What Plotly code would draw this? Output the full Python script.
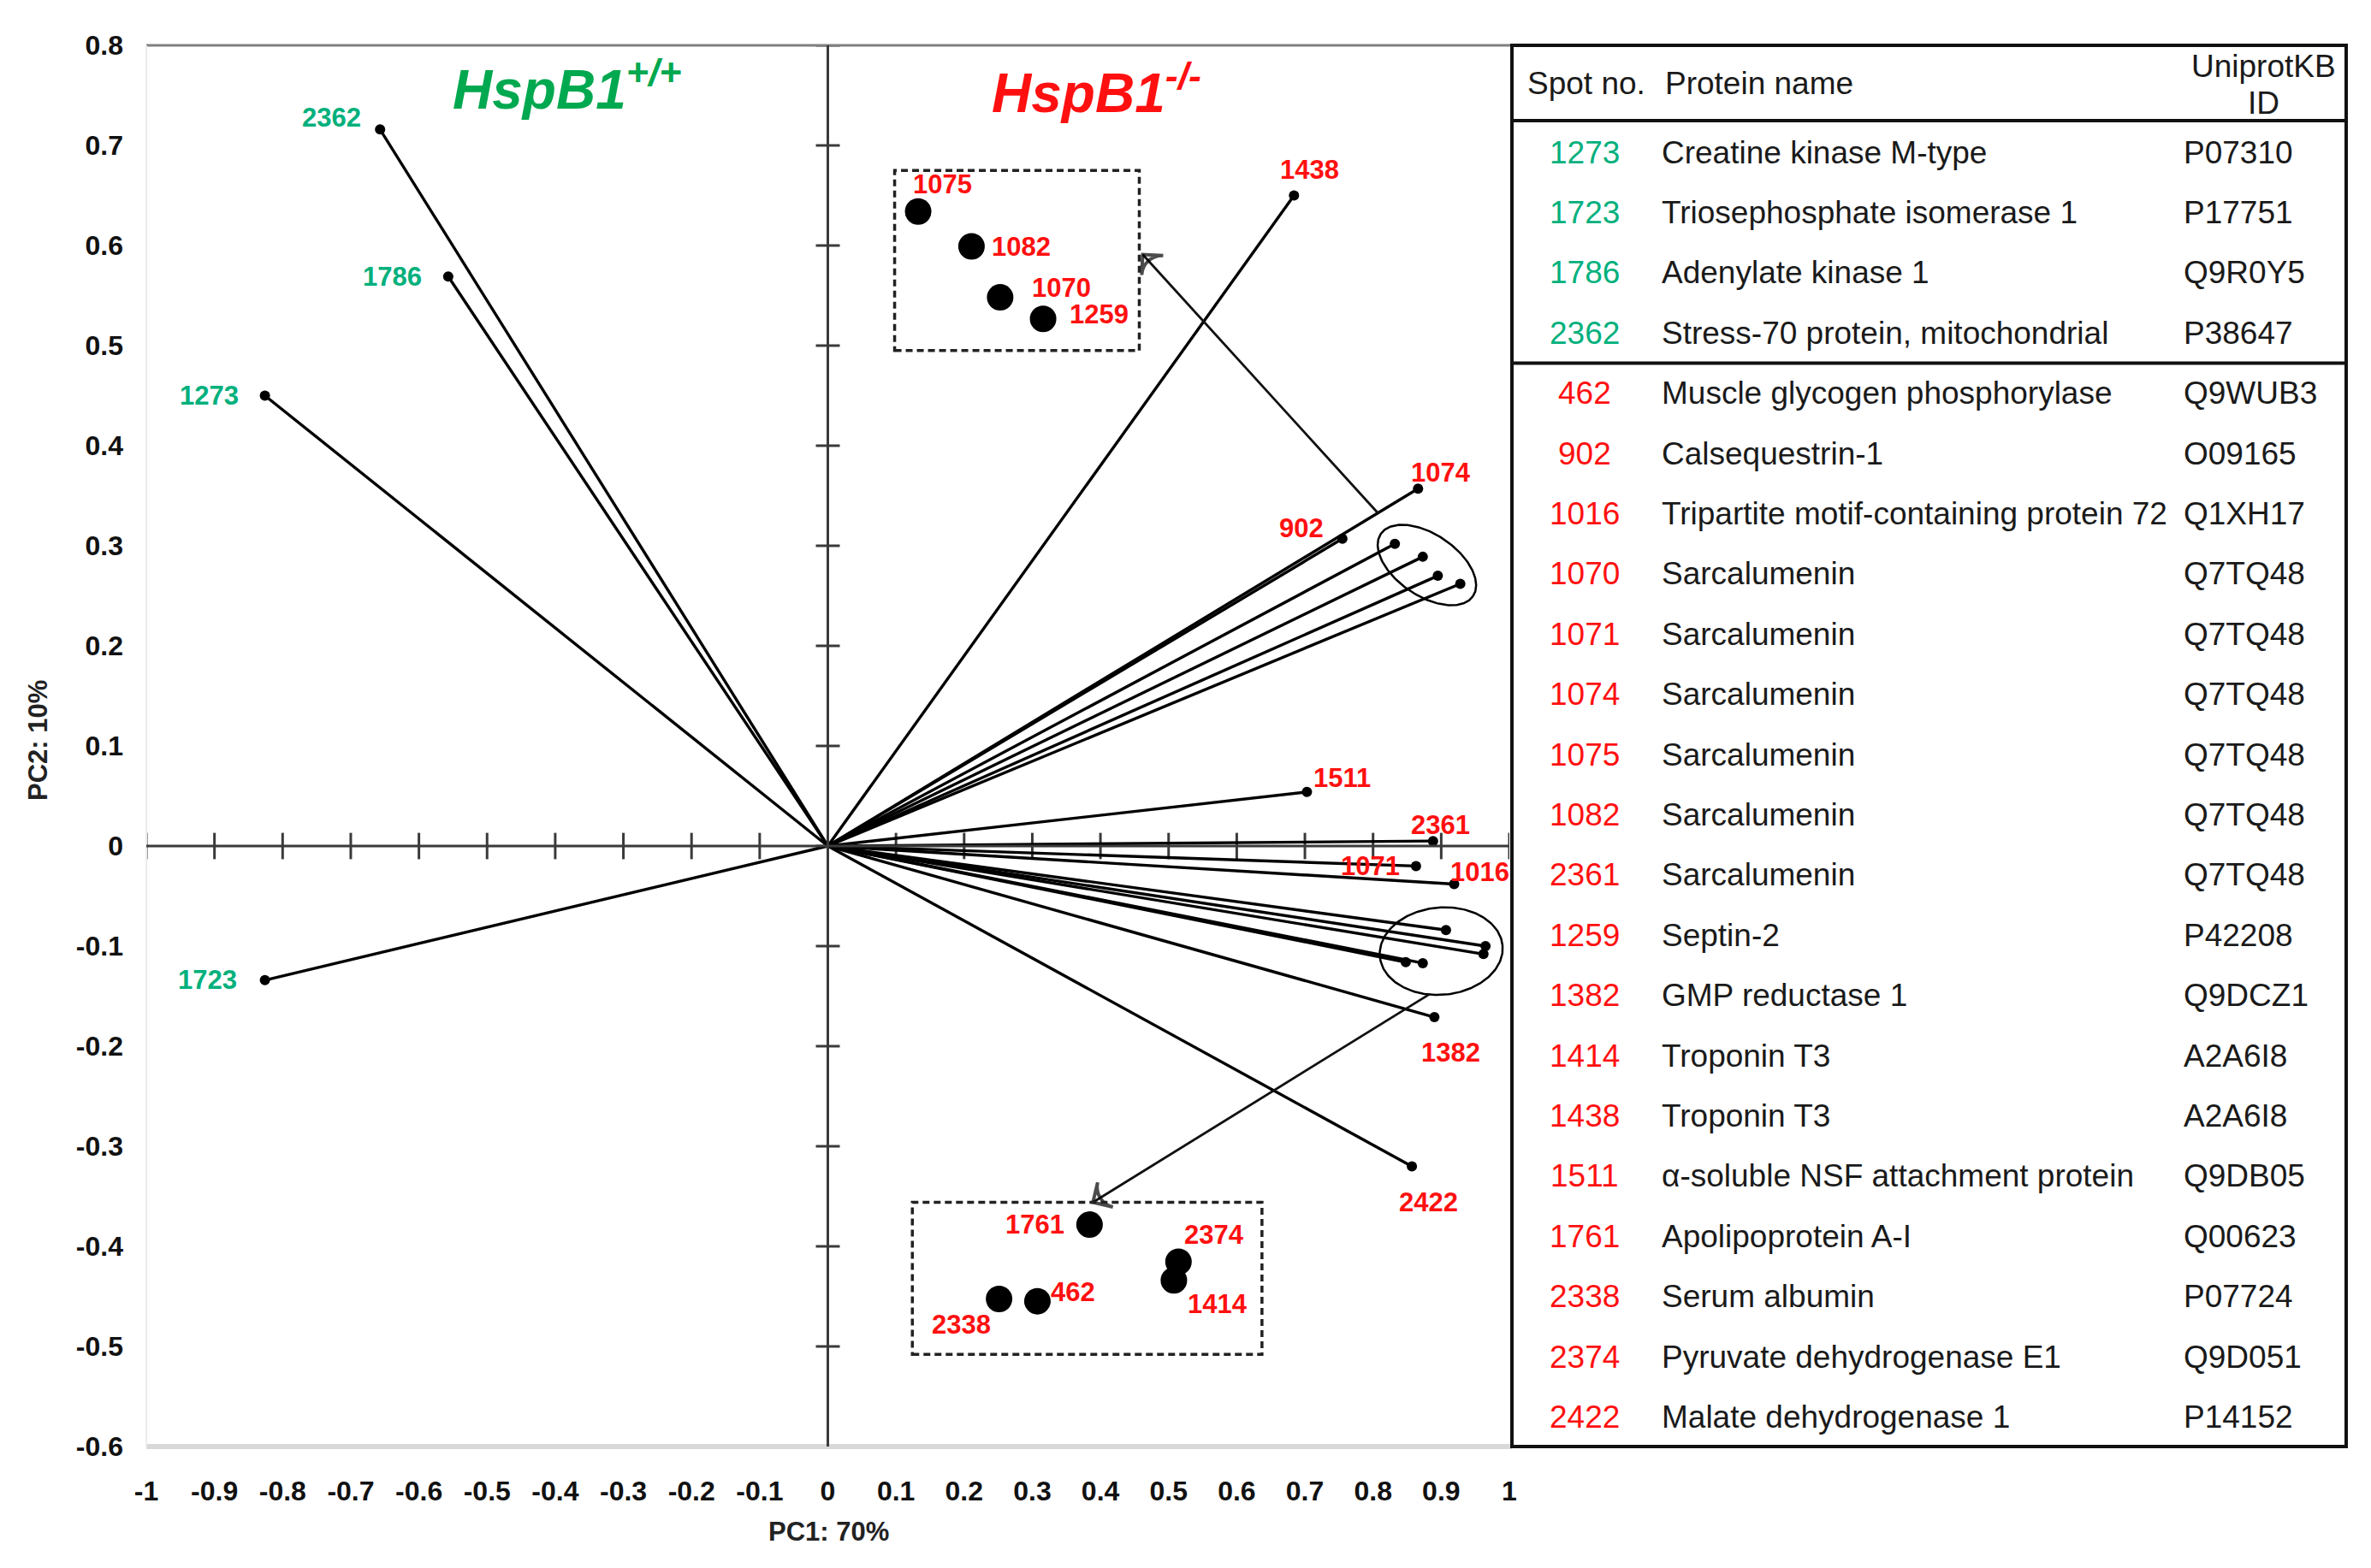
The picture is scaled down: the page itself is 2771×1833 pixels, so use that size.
import numpy as np
import plotly.graph_objects as go

W, H = 2771, 1833

# ---------------- data ----------------
GREEN_SPOTS = ["2362", "1786", "1273", "1723"]
GREEN_PC1 = [-0.657, -0.557, -0.826, -0.826]
GREEN_PC2 = [0.716, 0.569, 0.450, -0.134]

RED_SPOTS = ["1438", "1074", "902", "1075", "1082", "1070", "1259", "1511", "2361",
             "1071", "1016", "1761", "2374", "1414", "2338", "462", "1382", "2422"]
RED_PC1 = [0.684, 0.866, 0.755, 0.832, 0.873, 0.895, 0.928, 0.703, 0.888,
           0.863, 0.919, 0.907, 0.965, 0.962, 0.848, 0.873, 0.890, 0.857]
RED_PC2 = [0.650, 0.357, 0.307, 0.302, 0.289, 0.270, 0.262, 0.054, 0.005,
           -0.020, -0.038, -0.084, -0.100, -0.108, -0.116, -0.117, -0.171, -0.320]

UPPER_CLUSTER = ["1075", "1082", "1070", "1259"]
LOWER_CLUSTER = ["1761", "2374", "1414", "2338", "462"]

X_TICKS = [-1, -0.9, -0.8, -0.7, -0.6, -0.5, -0.4, -0.3, -0.2, -0.1, 0,
           0.1, 0.2, 0.3, 0.4, 0.5, 0.6, 0.7, 0.8, 0.9, 1]
X_TICK_LABELS = ["-1", "-0.9", "-0.8", "-0.7", "-0.6", "-0.5", "-0.4", "-0.3", "-0.2", "-0.1", "0",
                 "0.1", "0.2", "0.3", "0.4", "0.5", "0.6", "0.7", "0.8", "0.9", "1"]
Y_TICKS = [-0.6, -0.5, -0.4, -0.3, -0.2, -0.1, 0, 0.1, 0.2, 0.3, 0.4, 0.5, 0.6, 0.7, 0.8]
Y_TICK_LABELS = ["-0.6", "-0.5", "-0.4", "-0.3", "-0.2", "-0.1", "0",
                 "0.1", "0.2", "0.3", "0.4", "0.5", "0.6", "0.7", "0.8"]

X_TITLE = "PC1: 70%"
Y_TITLE = "PC2: 10%"
WT_TITLE = "HspB1<sup>+/+</sup>"
KO_TITLE = "HspB1<sup>-/-</sup>"

TABLE_HEADER = ["Spot no.", "Protein name", "UniprotKB", "ID"]
TABLE_SPOTS_WT = ["1273", "1723", "1786", "2362"]
TABLE_NAMES_WT = ["Creatine kinase M-type", "Triosephosphate isomerase 1",
                  "Adenylate kinase 1", "Stress-70 protein, mitochondrial"]
TABLE_IDS_WT = ["P07310", "P17751", "Q9R0Y5", "P38647"]
TABLE_SPOTS_KO = ["462", "902", "1016", "1070", "1071", "1074", "1075", "1082", "2361",
                  "1259", "1382", "1414", "1438", "1511", "1761", "2338", "2374", "2422"]
TABLE_NAMES_KO = ["Muscle glycogen phosphorylase", "Calsequestrin-1",
                  "Tripartite motif-containing protein 72", "Sarcalumenin", "Sarcalumenin",
                  "Sarcalumenin", "Sarcalumenin", "Sarcalumenin", "Sarcalumenin", "Septin-2",
                  "GMP reductase 1", "Troponin T3", "Troponin T3",
                  "\u03b1-soluble NSF attachment protein", "Apolipoprotein A-I", "Serum albumin",
                  "Pyruvate dehydrogenase E1", "Malate dehydrogenase 1"]
TABLE_IDS_KO = ["Q9WUB3", "O09165", "Q1XH17", "Q7TQ48", "Q7TQ48", "Q7TQ48", "Q7TQ48",
                "Q7TQ48", "Q7TQ48", "P42208", "Q9DCZ1", "A2A6I8", "A2A6I8", "Q9DB05",
                "Q00623", "P07724", "Q9D051", "P14152"]

# ---------------- layout / style ----------------
GREEN = "#00B07C"
GREEN_TITLE = "#00A84F"
RED = "#FF1010"
FONT = "Liberation Sans, Arial, sans-serif"
LBL_SIZE = 31

PLOT_L, PLOT_R, PLOT_T, PLOT_B = 171, 1764, 53, 1691
TAB_L, TAB_R = 1767, 2742
PPX = (PLOT_R - PLOT_L) / 2.0
PPY = (PLOT_B - PLOT_T) / 1.4


def px(x):
    return x / W


def py(y):
    return 1 - y / H


LABEL_SHIFT = {
    "2362": (-57, 14), "1786": (-65, 0), "1273": (-65, 0), "1723": (-67, 0),
    "1438": (18, 30), "1074": (27, 19), "902": (-48, 12), "1511": (41, 16),
    "2361": (9, 19), "1071": (-53, 0), "1016": (30, 14), "1382": (19, -41), "2422": (19, -42),
}
INSET_LABEL_SHIFT = {
    "1075": (28, 32), "1082": (58, 0), "1070": (72, 11), "1259": (65, 5),
    "1761": (-64, 0), "2374": (42, 32), "1414": (51, -28), "2338": (-44, -30), "462": (42, 11),
}
INSETS = {
    "upper": dict(members=UPPER_CLUSTER, center=(0.228, 0.577), scale=(1.91, 2.68),
                  box=(0.098, 0.495, 0.457, 0.675),
                  ellipse=dict(a=65, b=36, angle=-34, dx=-0.003, dy=0.0),
                  arrow=dict(tail=(0.808, 0.332), head=(0.462, 0.591))),
    "lower": dict(members=LOWER_CLUSTER, center=(0.393, -0.427), scale=(2.25, 2.32),
                  box=(0.124, -0.508, 0.637, -0.356),
                  ellipse=dict(a=72, b=51, angle=5, dx=-0.011, dy=0.0),
                  arrow=dict(tail=(0.883, -0.148), head=(0.389, -0.356))),
}


def paper_text(x, y, text, font, xanchor="center", yanchor="middle", **kw):
    return dict(x=px(x), y=py(y), xref="paper", yref="paper", showarrow=False,
                xanchor=xanchor, yanchor=yanchor, text=text, font=font, **kw)


fig = go.Figure()
annotations = []
shapes = []

# frame of plotting area
shapes.append(dict(type="line", xref="paper", yref="paper", x0=px(PLOT_L), x1=px(TAB_L),
                   y0=py(PLOT_T), y1=py(PLOT_T), line=dict(color="#808080", width=3)))
shapes.append(dict(type="line", xref="paper", yref="paper", x0=px(PLOT_L), x1=px(TAB_L),
                   y0=py(PLOT_B), y1=py(PLOT_B), line=dict(color="#d9d9d9", width=6)))
shapes.append(dict(type="line", xref="paper", yref="paper", x0=px(PLOT_L), x1=px(PLOT_L),
                   y0=py(PLOT_T), y1=py(PLOT_B), line=dict(color="#ececec", width=2)))

# central axes
shapes.append(dict(type="line", xref="x", yref="y", x0=0, x1=0, y0=Y_TICKS[0], y1=Y_TICKS[-1],
                   line=dict(color="#3a3a3a", width=3)))
shapes.append(dict(type="line", xref="x", yref="y", x0=X_TICKS[0], x1=X_TICKS[-1], y0=0, y1=0,
                   line=dict(color="#3a3a3a", width=3)))
fig.add_trace(go.Scatter(x=[0] * len(Y_TICKS), y=Y_TICKS, mode="markers", hoverinfo="skip",
                         marker=dict(symbol="line-ew", size=20, line=dict(color="#3a3a3a", width=3))))
fig.add_trace(go.Scatter(x=X_TICKS, y=[0] * len(X_TICKS), mode="markers", hoverinfo="skip",
                         marker=dict(symbol="line-ns", size=22, line=dict(color="#3a3a3a", width=3))))

# loading vectors
all_x = GREEN_PC1 + RED_PC1
all_y = GREEN_PC2 + RED_PC2
lx, ly = [], []
for xv, yv in zip(all_x, all_y):
    lx += [0, xv, None]
    ly += [0, yv, None]
fig.add_trace(go.Scatter(x=lx, y=ly, mode="lines", line=dict(color="black", width=3.4),
                         hoverinfo="skip"))
fig.add_trace(go.Scatter(x=all_x, y=all_y, mode="markers", marker=dict(color="black", size=12),
                         hoverinfo="skip"))

# point labels
for s, xv, yv in zip(GREEN_SPOTS, GREEN_PC1, GREEN_PC2):
    dx, dy = LABEL_SHIFT[s]
    annotations.append(dict(x=xv, y=yv, xref="x", yref="y", text=f"<b>{s}</b>", showarrow=False,
                            xanchor="center", yanchor="middle", xshift=dx, yshift=dy,
                            font=dict(family=FONT, size=LBL_SIZE, color=GREEN)))
for s, xv, yv in zip(RED_SPOTS, RED_PC1, RED_PC2):
    if s in LABEL_SHIFT:
        dx, dy = LABEL_SHIFT[s]
        annotations.append(dict(x=xv, y=yv, xref="x", yref="y", text=f"<b>{s}</b>", showarrow=False,
                                xanchor="center", yanchor="middle", xshift=dx, yshift=dy,
                                font=dict(family=FONT, size=LBL_SIZE, color=RED)))

# insets: ellipses, boxes, magnified dots, arrows
lookup = {s: (xv, yv) for s, xv, yv in zip(RED_SPOTS, RED_PC1, RED_PC2)}
t = np.linspace(0, 2 * np.pi, 200)
for key, ins in INSETS.items():
    mx = np.mean([lookup[m][0] for m in ins["members"]])
    my = np.mean([lookup[m][1] for m in ins["members"]])
    e = ins["ellipse"]
    th = np.deg2rad(e["angle"])
    ex = mx + e["dx"] + (e["a"] * np.cos(t) * np.cos(th) - e["b"] * np.sin(t) * np.sin(th)) / PPX
    ey = my + e["dy"] + (e["a"] * np.cos(t) * np.sin(th) + e["b"] * np.sin(t) * np.cos(th)) / PPY
    fig.add_trace(go.Scatter(x=ex, y=ey, mode="lines", line=dict(color="black", width=2.5),
                             hoverinfo="skip"))
    x0, y0, x1, y1 = ins["box"]
    shapes.append(dict(type="rect", xref="x", yref="y", x0=x0, y0=y0, x1=x1, y1=y1,
                       line=dict(color="#222", width=3.5, dash="8px,5px")))
    cx, cy = ins["center"]
    sx, sy = ins["scale"]
    ix = [cx + sx * (lookup[m][0] - mx) for m in ins["members"]]
    iy = [cy + sy * (lookup[m][1] - my) for m in ins["members"]]
    fig.add_trace(go.Scatter(x=ix, y=iy, mode="markers", marker=dict(color="black", size=31),
                             hoverinfo="skip"))
    for m, xv, yv in zip(ins["members"], ix, iy):
        dx, dy = INSET_LABEL_SHIFT[m]
        annotations.append(dict(x=xv, y=yv, xref="x", yref="y", text=f"<b>{m}</b>", showarrow=False,
                                xanchor="center", yanchor="middle", xshift=dx, yshift=dy,
                                font=dict(family=FONT, size=LBL_SIZE, color=RED)))
    a = ins["arrow"]
    fig.add_trace(go.Scatter(x=[a["tail"][0], a["head"][0]], y=[a["tail"][1], a["head"][1]],
                             mode="lines+markers", hoverinfo="skip",
                             line=dict(color="#111", width=2.8),
                             marker=dict(symbol=["circle", "arrow-wide-open"], size=[0, 24],
                                         angleref="previous", color="#000",
                                         line=dict(color="#000", width=4))))

# group titles
annotations.append(paper_text(663, 100, f"<b><i>{WT_TITLE}</i></b>",
                              dict(family=FONT, size=64, color=GREEN_TITLE)))
annotations.append(paper_text(1281, 104, f"<b><i>{KO_TITLE}</i></b>",
                              dict(family=FONT, size=64, color=RED)))

# axis titles
annotations.append(paper_text(968, 1790, f"<b>{X_TITLE}</b>", dict(family=FONT, size=31, color="#222")))
annotations.append(paper_text(44, 866, f"<b>{Y_TITLE}</b>", dict(family=FONT, size=31, color="#222"),
                              textangle=-90))

# ---------------- table ----------------
ROW0, ROW_H = 178, 70.4
SPOT_CX, NAME_X, ID_X = 1852, 1940, 2550
TFONT = dict(family=FONT, size=37, color="#1a1a1a")
shapes.append(dict(type="rect", xref="paper", yref="paper", x0=px(TAB_L), x1=px(TAB_R),
                   y0=py(PLOT_T), y1=py(PLOT_B), line=dict(color="#111", width=4)))
shapes.append(dict(type="line", xref="paper", yref="paper", x0=px(TAB_L), x1=px(TAB_R),
                   y0=py(141), y1=py(141), line=dict(color="#111", width=4)))
shapes.append(dict(type="line", xref="paper", yref="paper", x0=px(TAB_L), x1=px(TAB_R),
                   y0=py(ROW0 + 3.5 * ROW_H), y1=py(ROW0 + 3.5 * ROW_H),
                   line=dict(color="#111", width=4)))
annotations.append(paper_text(1783, 97, TABLE_HEADER[0], TFONT, xanchor="left"))
annotations.append(paper_text(1944, 97, TABLE_HEADER[1], TFONT, xanchor="left"))
annotations.append(paper_text(2645, 78, TABLE_HEADER[2], TFONT))
annotations.append(paper_text(2645, 120, TABLE_HEADER[3], TFONT))

rows = ([(s, n, i, GREEN) for s, n, i in zip(TABLE_SPOTS_WT, TABLE_NAMES_WT, TABLE_IDS_WT)] +
        [(s, n, i, RED) for s, n, i in zip(TABLE_SPOTS_KO, TABLE_NAMES_KO, TABLE_IDS_KO)])
for k, (s, n, i, col) in enumerate(rows):
    yy = ROW0 + k * ROW_H
    annotations.append(paper_text(SPOT_CX, yy, s, dict(family=FONT, size=37, color=col)))
    annotations.append(paper_text(NAME_X, yy, n, TFONT, xanchor="left"))
    annotations.append(paper_text(ID_X, yy, i, TFONT, xanchor="left"))

fig.update_layout(
    width=W, height=H, autosize=False,
    margin=dict(l=0, r=0, t=0, b=0, pad=0),
    paper_bgcolor="white", plot_bgcolor="white",
    showlegend=False,
    xaxis=dict(domain=[px(PLOT_L), px(PLOT_R)], range=[-1, 1], tickvals=X_TICKS,
               ticktext=X_TICK_LABELS, showgrid=False, zeroline=False, showline=False,
               ticks="", ticklabelstandoff=30, automargin=False,
               tickfont=dict(family=FONT, size=32, color="#111", weight="bold")),
    yaxis=dict(domain=[py(PLOT_B), py(PLOT_T)], range=[-0.6, 0.8], tickvals=Y_TICKS,
               ticktext=Y_TICK_LABELS, showgrid=False, zeroline=False, showline=False,
               ticks="", ticklabelstandoff=26, automargin=False,
               tickfont=dict(family=FONT, size=32, color="#111", weight="bold")),
    shapes=shapes,
    annotations=annotations,
)

fig.write_html("out.html", config={"displayModeBar": False},
               post_script="document.body.style.margin='0px';")
